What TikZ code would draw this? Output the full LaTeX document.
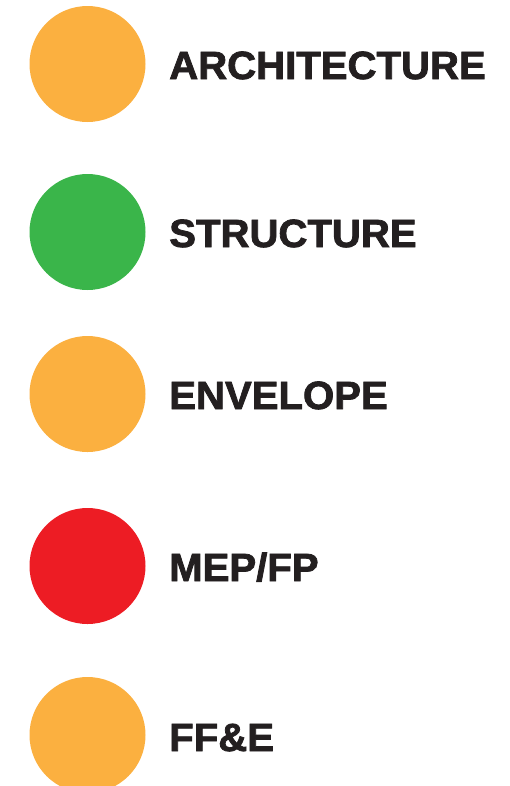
\documentclass[tikz,border=0pt]{standalone}
\usepackage{fontspec}
\setmainfont{Liberation Sans}[FakeStretch=1.02, FakeBold=2]
\usepackage{xcolor}
\usetikzlibrary{positioning}

\definecolor{amber}{HTML}{FBB040}
\definecolor{leafgreen}{HTML}{3AB54A}
\definecolor{alertred}{HTML}{ED1C24}
\definecolor{inkdark}{HTML}{231F20}

\begin{document}
\begin{tikzpicture}[
    x=0.75pt, y=-0.75pt,
    dot/.style={
        circle,
        minimum size=87pt,
        inner sep=0pt
    },
    tag/.style={
        anchor=base west,
        inner sep=0pt,
        text=inkdark,
        font=\fontsize{29.5pt}{30pt}\selectfont\bfseries
    }
]
\useasboundingbox (0,0) rectangle (510,786);

\node[dot, fill=amber] (arch) at (87.5,64) {};
\node[dot, fill=leafgreen] (struct) at (87.5,232) {};
\node[dot, fill=amber] (envel) at (87.5,394) {};
\node[dot, fill=alertred] (mep) at (87.5,566) {};
\node[dot, fill=amber] (ffe) at (87.5,735) {};

\node[tag] (archtext) at (169,79) {ARCHITECTURE};
\node[tag] (structtext) at (169,247) {STRUCTURE};
\node[tag] (enveltext) at (169,409) {ENVELOPE};
\node[tag] (meptext) at (169,581) {MEP/FP};
\node[tag] (ffetext) at (169,751) {FF\&E};

\end{tikzpicture}
\end{document}
